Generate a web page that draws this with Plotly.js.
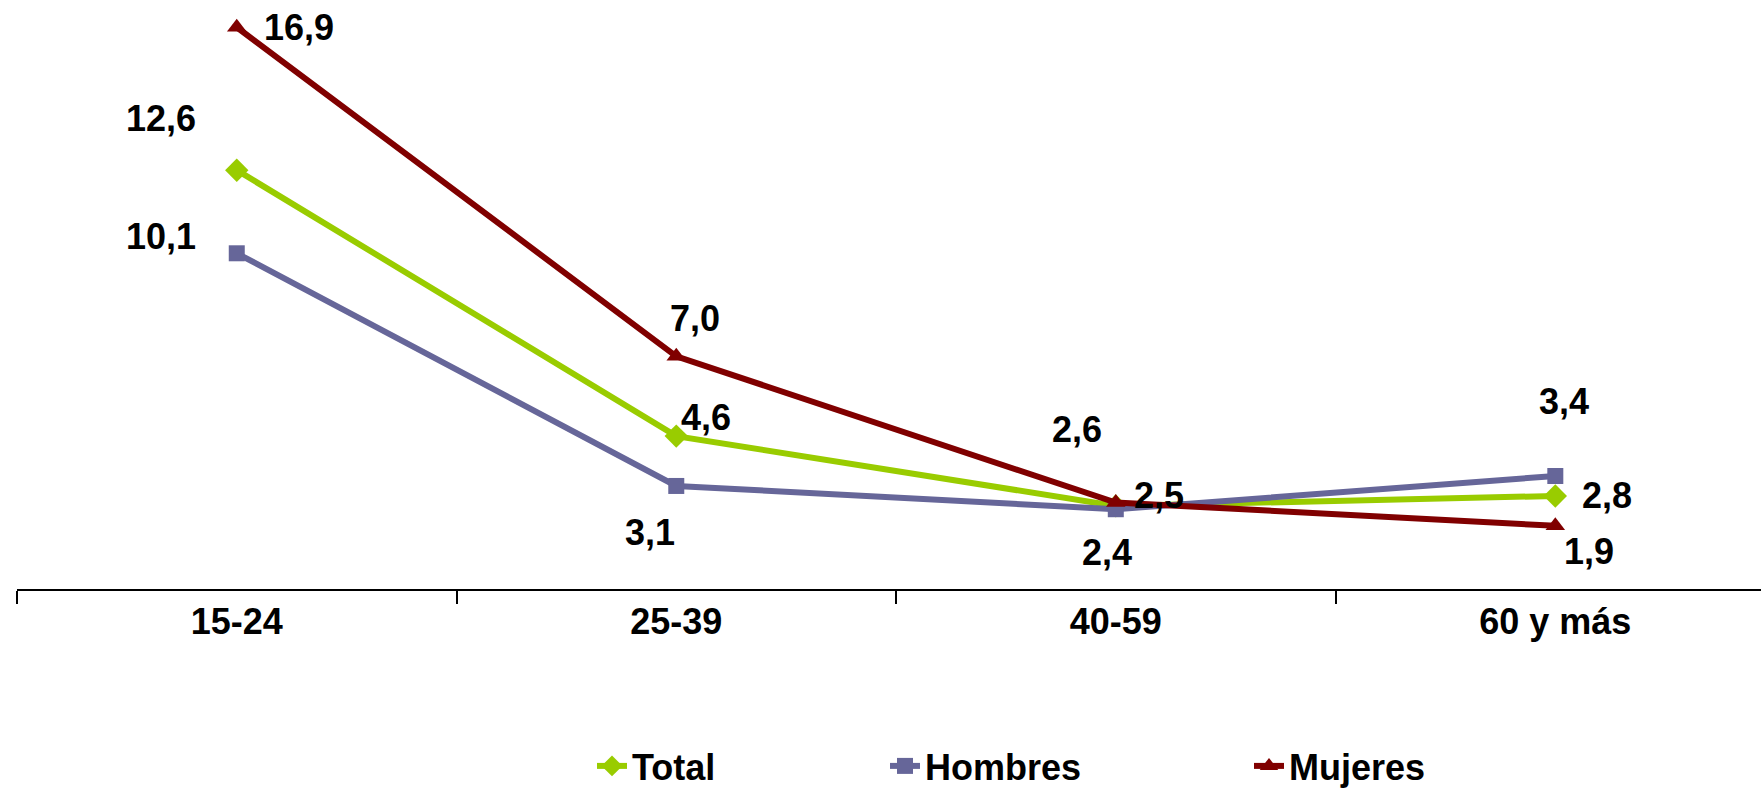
<!DOCTYPE html>
<html>
<head>
<meta charset="utf-8">
<script src="https://cdn.plot.ly/plotly-3.0.1.min.js"></script>
<style>
html,body{margin:0;padding:0;background:#fff;}
#chart{width:1761px;height:788px;}
</style>
</head>
<body>
<div id="chart"></div>
<script>
// ---- Data ----
const categories = ['15-24', '25-39', '40-59', '60 y más'];
const seriesNames = ['Total', 'Hombres', 'Mujeres'];
const totalValues = [12.6, 4.6, 2.5, 2.8];
const hombresValues = [10.1, 3.1, 2.4, 3.4];
const mujeresValues = [16.9, 7.0, 2.6, 1.9];

// ---- Styles ----
const colors = ['#99CC00', '#666699', '#800000'];
const symbols = ['diamond', 'square', 'triangle-up'];
const markerSizes = [18, 16, 17];
// label offsets in pixels [dx, dy(up positive)] per series per category
const labelOffsets = [
  [[-76, 52], [30, 19], [43, 10], [52, 0]],
  [[-76, 17], [-26, -47], [-9, -43], [9, 74]],
  [[62, 0], [19, 38], [-39, 73], [34, -26]]
];
const legendX = [592, 885, 1249];

const font = {family: '"Liberation Sans", Arial, sans-serif', size: 36, color: '#000', weight: 'bold'};
const allValues = [totalValues, hombresValues, mujeresValues];
const legendIds = ['legend', 'legend2', 'legend3'];

const traces = allValues.map((vals, i) => ({
  type: 'scatter',
  mode: 'lines+markers',
  name: seriesNames[i],
  x: categories,
  y: vals,
  line: {color: colors[i], width: 6},
  marker: {color: colors[i], symbol: symbols[i], size: markerSizes[i]},
  legend: legendIds[i],
  cliponaxis: false
}));

const fmt = v => v.toFixed(1).replace('.', ',');
const annotations = [];
allValues.forEach((vals, i) => {
  vals.forEach((v, j) => {
    annotations.push({
      x: categories[j], y: v, xref: 'x', yref: 'y',
      text: fmt(v), showarrow: false,
      xanchor: 'center', yanchor: 'middle',
      xshift: labelOffsets[i][j][0], yshift: labelOffsets[i][j][1],
      font: font
    });
  });
});

const layout = {
  width: 1761, height: 788,
  margin: {l: 17, r: 0, t: 2, b: 199},
  paper_bgcolor: '#fff', plot_bgcolor: '#fff',
  showlegend: true,
  font: font,
  xaxis: {
    type: 'category',
    range: [-0.5, 3.468],
    showline: true, linecolor: '#000', linewidth: 2,
    ticks: 'outside', tickson: 'boundaries', ticklen: 13, tickwidth: 2, tickcolor: '#000',
    showgrid: false, zeroline: false,
    tickfont: font,
    fixedrange: true
  },
  yaxis: {
    range: [0, 17.66],
    visible: false,
    showgrid: false, zeroline: false,
    fixedrange: true
  },
  annotations: annotations
};
legendIds.forEach((id, i) => {
  layout[id] = {
    orientation: 'h',
    xref: 'container', yref: 'container',
    x: legendX[i] / 1761, y: 1 - 766 / 788,
    xanchor: 'left', yanchor: 'middle',
    font: font,
    bgcolor: 'rgba(0,0,0,0)'
  };
});

Plotly.newPlot('chart', traces, layout, {displayModeBar: false, staticPlot: true});
</script>
</body>
</html>
